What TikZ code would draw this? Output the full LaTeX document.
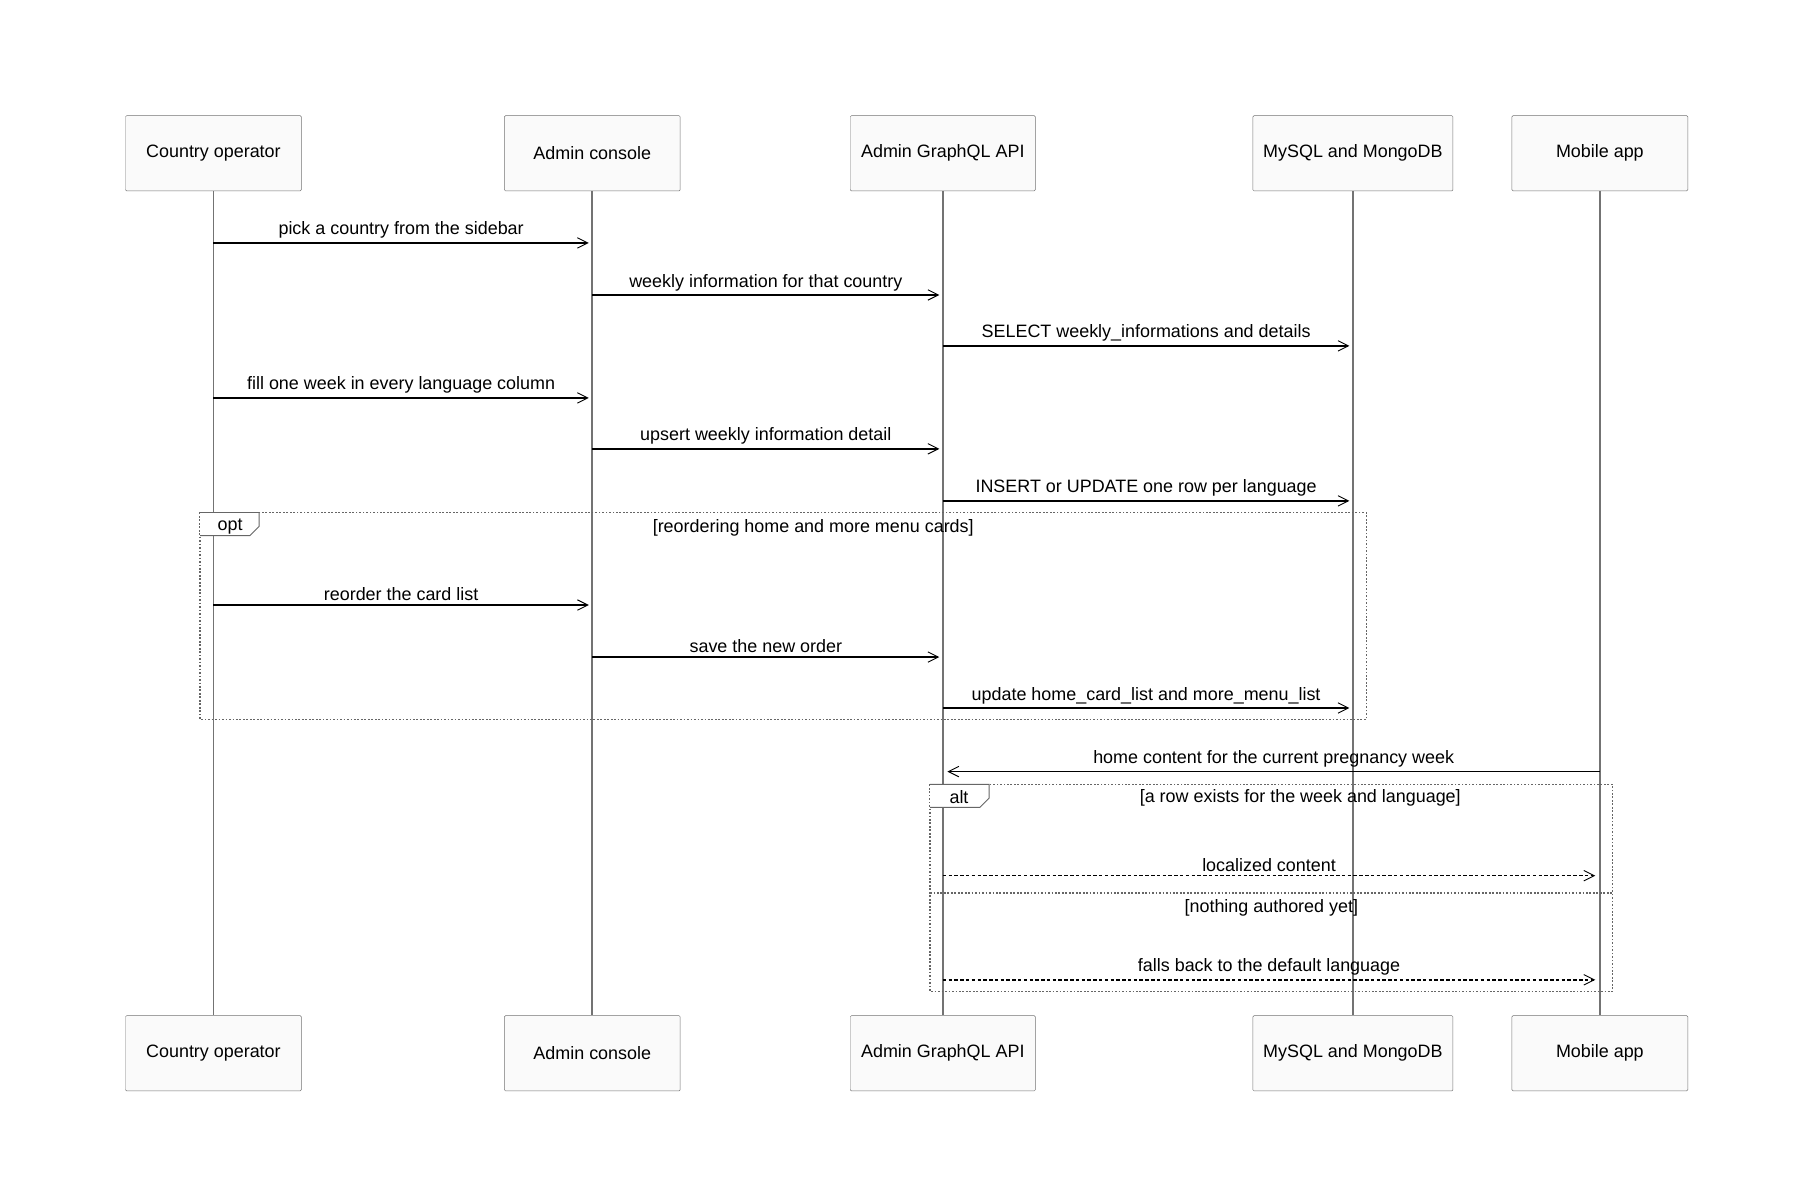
\documentclass[tikz,border=0pt]{standalone}
\usepackage{fontspec}
\setmainfont{Liberation Sans}
\usetikzlibrary{arrows.meta, calc}

\tikzset{
  actor/.style={draw=black!55, fill=black!2, rounded corners=1pt, minimum height=65pt, font=\fontsize{15.5}{18}\selectfont},
  life/.style={draw=black!55, line width=1.6pt},
  msg/.style={draw=black, line width=1.3pt, -{Straight Barb[length=9pt, width=9pt, line width=0.8pt]}},
  reply/.style={msg, dash pattern=on 3pt off 2pt},
  lbl/.style={font=\fontsize{15.5}{18}\selectfont, inner sep=1pt},
  frame/.style={draw=black!60, line width=1.1pt, dash pattern=on 1.5pt off 1.5pt},
  tab/.style={draw=black!60, fill=white, line width=0.8pt}
}

\begin{document}
\begin{tikzpicture}[x=1pt, y=-1pt]
\useasboundingbox (0,0) rectangle (1556,1040);

 %%Paramaters
\def\TopY{132.5}
\def\BotY{910.5}
%% actors, top and bottom
\node[actor, minimum width=152pt] (co) at (184.5, \TopY) {Country operator};
\node[actor, minimum width=152pt] (ac) at (512, \TopY) {Admin console};
\node[actor, minimum width=160pt] (api) at (815, \TopY) {Admin GraphQL API};
\node[actor, minimum width=173pt] (db) at (1169.5, \TopY) {MySQL and MongoDB};
\node[actor, minimum width=152pt] (ma) at (1383, \TopY) {Mobile app};
\node[actor, minimum width=152pt] (cob) at (184.5, \BotY) {Country operator};
\node[actor, minimum width=152pt] (acb) at (512, \BotY) {Admin console};
\node[actor, minimum width=160pt] (apib) at (815, \BotY) {Admin GraphQL API};
\node[actor, minimum width=173pt] (dbb) at (1169.5, \BotY) {MySQL and MongoDB};
\node[actor, minimum width=152pt] (mab) at (1383, \BotY) {Mobile app};

%% lifelines
\foreach \a in {co, ac, api, db, ma}
  \draw[life] (\a.south) -- (\a b.north);

%% opt frame
\coordinate (optNW) at (173, 443);
\coordinate (optSE) at (1181, 622);
\draw[frame] (optNW) rectangle (optSE);
\draw[tab] (optNW) -- ++(51,0) -- ++(0,12) -- ++(-8,8) -- ++(-43,0);
\node[lbl] (optT) at (199, 455) {opt};
\node[lbl] (optC) at (703, 456) {[reordering home and more menu cards]};

%% alt frame
\coordinate (altNW) at (804, 678);
\coordinate (altSE) at (1394, 857);
\draw[frame] (altNW) rectangle (altSE);
\draw[frame] (804, 772) -- (1394, 772);
\draw[tab] (altNW) -- ++(51,0) -- ++(0,12) -- ++(-8,8) -- ++(-43,0);
\node[lbl] (altT) at (829, 689) {alt};
\node[lbl] (altC1) at (1124, 690) {[a row exists for the week and language]};
\node[lbl] (altC2) at (1099, 785) {[nothing authored yet]};

%% messages
\foreach \from/\to/\y/\txt in {
  co/ac/210/{pick a country from the sidebar},
  ac/api/255/{weekly information for that country},
  api/db/299/{SELECT weekly\_informations and details},
  co/ac/344/{fill one week in every language column},
  ac/api/388/{upsert weekly information detail},
  api/db/433/{INSERT or UPDATE one row per language},
  co/ac/523/{reorder the card list},
  ac/api/568/{save the new order},
  api/db/612/{update home\_card\_list and more\_menu\_list}}
  \draw[msg] (\from.south |- 0,\y) -- node[lbl, above=2pt]{\txt} ([xshift=-3pt]\to.south |- 0,\y);

\draw[msg] (ma.south |- 0,667) -- node[lbl, above=2pt]{home content for the current pregnancy week} ([xshift=4pt]api.south |- 0,667);
\draw[reply] (api.south |- 0,757) -- node[lbl, above=2pt]{localized content} ([xshift=-4pt]ma.south |- 0,757);
\draw[reply] (api.south |- 0,847) -- node[lbl, above=2pt]{falls back to the default language} ([xshift=-4pt]ma.south |- 0,847);

\end{tikzpicture}
\end{document}
